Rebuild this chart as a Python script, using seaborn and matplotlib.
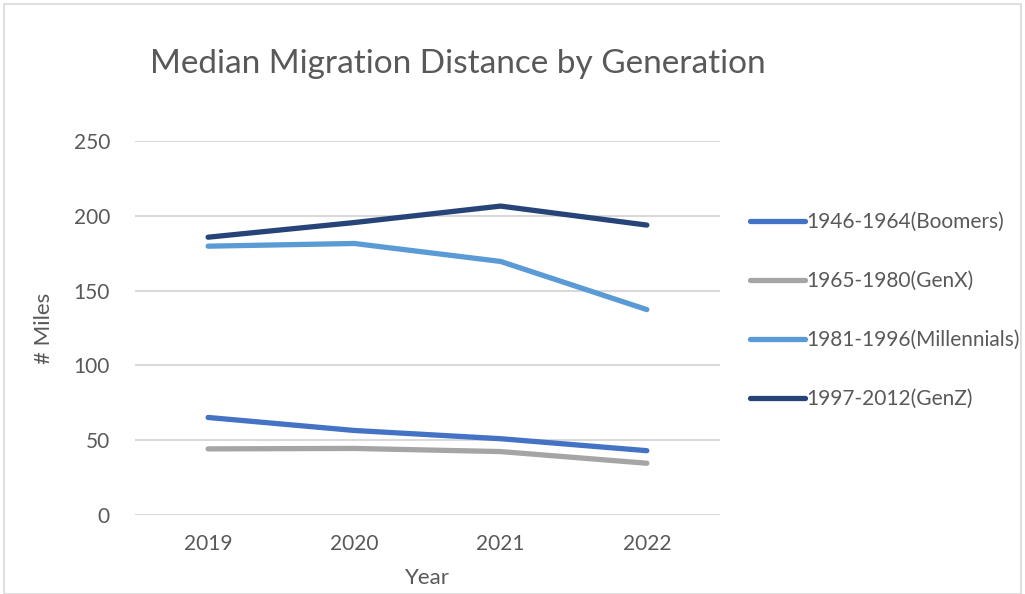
import matplotlib
matplotlib.use("Agg")
import matplotlib.pyplot as plt
import seaborn as sns
import pandas as pd
from matplotlib.patches import Rectangle
from matplotlib.lines import Line2D

years = [2019, 2020, 2021, 2022]
series_names = ["1946-1964(Boomers)", "1965-1980(GenX)", "1981-1996(Millennials)", "1997-2012(GenZ)"]
boomers = [65.2, 56.5, 51.0, 43.0]
genx = [44.2, 44.5, 42.4, 34.6]
millennials = [179.7, 181.5, 169.5, 137.3]
genz = [185.7, 195.5, 206.5, 193.8]
colors = ["#4472C4", "#A5A5A5", "#5B9BD5", "#264478"]
yticks = [0, 50, 100, 150, 200, 250]

values = [boomers, genx, millennials, genz]
rows = []
for name, vals in zip(series_names, values):
    for y, v in zip(years, vals):
        rows.append({"Year": y, "Miles": v, "Generation": name})
df = pd.DataFrame(rows)

sns.set_theme(style="white")
plt.rcParams["font.family"] = ["Lato", "DejaVu Sans"]
text_color = "#595959"

fig = plt.figure(figsize=(10.25, 5.94), dpi=100)
ax = fig.add_axes([0.1317, 0.133, 0.5707, 0.6296])

sns.lineplot(data=df, x="Year", y="Miles", hue="Generation", hue_order=series_names,
             palette=colors, linewidth=3.8, ax=ax, legend=False, solid_capstyle="round")

ax.set_xlim(2018.5, 2022.5)
ax.set_ylim(0, 250)
ax.set_yticks(yticks)
ax.set_xticks(years)
ax.set_xticklabels([str(y) for y in years])
ax.yaxis.grid(True, color="#D9D9D9", linewidth=1.5)
ax.xaxis.grid(False)
for s in ax.spines.values():
    s.set_visible(False)
ax.tick_params(axis="both", length=0, labelsize=15, colors=text_color, pad=0)
ax.tick_params(axis="y", pad=18)
ax.tick_params(axis="x", pad=14)
ax.set_xlabel("Year", fontsize=16, color=text_color, labelpad=10)
ax.set_ylabel("# Miles", fontsize=16, color=text_color, labelpad=14)

fig.text(0.1465, 0.893, "Median Migration Distance by Generation", fontsize=24,
         color=text_color, ha="left", va="center")

handles = [Line2D([0], [0], color=c, linewidth=3.8, solid_capstyle="round") for c in colors]
leg = fig.legend(handles, series_names, loc="upper left", bbox_to_anchor=(0.724, 0.657),
                 frameon=False, fontsize=15, handlelength=2.6, handletextpad=0.1,
                 labelspacing=1.87, borderaxespad=0)
for t in leg.get_texts():
    t.set_color(text_color)

fig.patches.append(Rectangle((0.004, 0.0), 0.992, 0.994, transform=fig.transFigure,
                             fill=False, edgecolor="#D9D9D9", linewidth=1.2))

fig.savefig("out.png", dpi=100, facecolor="white")
